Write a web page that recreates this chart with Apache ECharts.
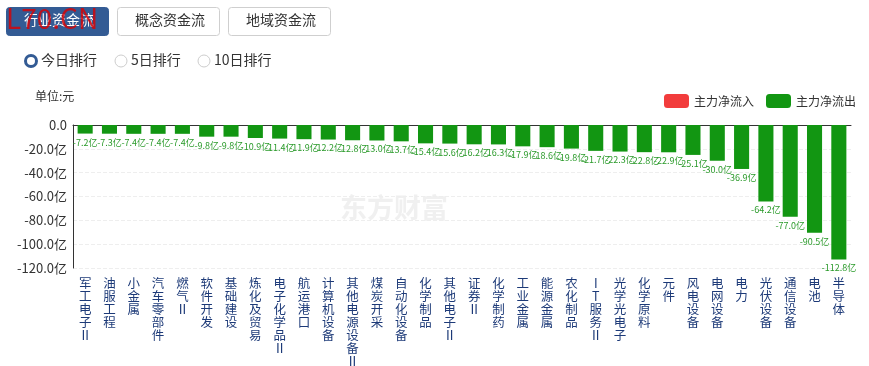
<!DOCTYPE html>
<html><head><meta charset="utf-8">
<script src="https://cdn.jsdelivr.net/npm/echarts@6/dist/echarts.min.js"></script>
<style>html,body{margin:0;padding:0;background:#fff}#c{width:869px;height:366px}</style>
</head><body><div id="c"></div>
<script>
const categories = ['军工电子Ⅱ','油服工程','小金属','汽车零部件','燃气Ⅱ','软件开发','基础建设','炼化及贸易','电子化学品Ⅱ','航运港口','计算机设备','其他电源设备Ⅱ','煤炭开采','自动化设备','化学制品','其他电子Ⅱ','证券Ⅱ','化学制药','工业金属','能源金属','农化制品','IT服务Ⅱ','光学光电子','化学原料','元件','风电设备','电网设备','电力','光伏设备','通信设备','电池','半导体'];
const netOutflow = [-7.2,-7.3,-7.4,-7.4,-7.4,-9.8,-9.8,-10.9,-11.4,-11.9,-12.2,-12.8,-13.0,-13.7,-15.4,-15.6,-16.2,-16.3,-17.9,-18.6,-19.8,-21.7,-22.3,-22.8,-22.9,-25.1,-30.0,-36.9,-64.2,-77.0,-90.5,-112.8];
const netInflow = categories.map(() => null);
const yTicks = { min: -120, max: 0, interval: 20 };
const tabs = ['行业资金流','概念资金流','地域资金流'];
const radios = ['今日排行','5日排行','10日排行'];

const ff = '"Microsoft YaHei","Noto Sans CJK SC",sans-serif';
const chart = echarts.init(document.getElementById('c'));
const graphics = [];
tabs.forEach((t, i) => {
  const x = 6 + i * 111;
  graphics.push({type:'rect', left:x, top:7, shape:{width:102, height:28, r:3},
    style:{fill: i===0 ? '#335b94' : '#fff', stroke: i===0 ? '#335b94' : '#cfcfcf', lineWidth:1}, z:10});
  graphics.push({type:'text', left:x+51-33, top:13, style:{text:t, fill: i===0 ? '#fff':'#333', font:'14px '+ff}, z:11});
});
const radioX = [25, 115, 198];
radios.forEach((t, i) => {
  const x = radioX[i];
  if (i === 0) {
    graphics.push({type:'circle', shape:{cx:x+6, cy:61, r:5.5}, style:{fill:'#fff', stroke:'#335b94', lineWidth:3}, z:10});
  } else {
    graphics.push({type:'circle', shape:{cx:x+6, cy:61, r:6}, style:{fill:'#fff', stroke:'#ccc', lineWidth:1}, z:10});
  }
  graphics.push({type:'text', left:x+16, top:53, style:{text:t, fill:'#333', font:'14px '+ff}, z:11});
});
graphics.push({type:'text', left:35, top:90, style:{text:'单位:元', fill:'#333', font:'12px '+ff}, z:10});
graphics.push({type:'text', left:340, top:194, style:{text:'东方财富', fill:'rgba(200,200,200,0.28)', font:'bold 27px '+ff}, z:0});
graphics.push({type:'text', left:6, top:4, style:{text:'L70.CN', fill:'rgba(220,0,0,0.8)', font:'28px '+ff}, z:20});

chart.setOption({
  animation: false,
  textStyle: { fontFamily: ff },
  graphic: graphics,
  legend: {
    right: 8, top: 89, itemWidth: 25, itemHeight: 14, itemGap: 12,
    textStyle: { color: '#333', fontSize: 12 },
    data: ['主力净流入','主力净流出']
  },
  grid: { left: 73, right: 18, top: 125, bottom: 98, outerBoundsMode: 'none', containLabel: false },
  xAxis: [{
    type: 'category', data: categories, position: 'bottom',
    axisLine: { show: false, onZero: false }, axisTick: { show: false },
    axisLabel: { interval: 0, color: '#1d3a78', fontSize: 12.5, lineHeight: 13, margin: 9,
      formatter: v => v.split('').join('\n') }
  }, {
    type: 'category', data: categories, position: 'top',
    axisLine: { show: true, lineStyle: { color: '#333' } }, axisTick: { show: false }, axisLabel: { show: false }
  }],
  yAxis: {
    type: 'value', min: yTicks.min, max: yTicks.max, interval: yTicks.interval,
    axisLine: { show: true, lineStyle: { color: '#333' } }, axisTick: { show: false },
    axisLabel: { color: '#333', fontSize: 13, margin: 6, formatter: v => v === 0 ? '0.0' : v.toFixed(1) + '亿' },
    splitLine: { lineStyle: { type: 'dashed', color: '#eee' } }
  },
  series: [{
    name: '主力净流入', type: 'bar', data: netInflow, stack: 'a', itemStyle: { color: '#f23c3c' }
  }, {
    name: '主力净流出', type: 'bar', data: netOutflow, stack: 'a', barWidth: '62%',
    itemStyle: { color: '#129612' },
    label: { show: true, position: 'bottom', distance: 4, color: '#2a9a2a', fontSize: 9,
      formatter: p => p.value.toFixed(1) + '亿' }
  }]
});
</script></body></html>
